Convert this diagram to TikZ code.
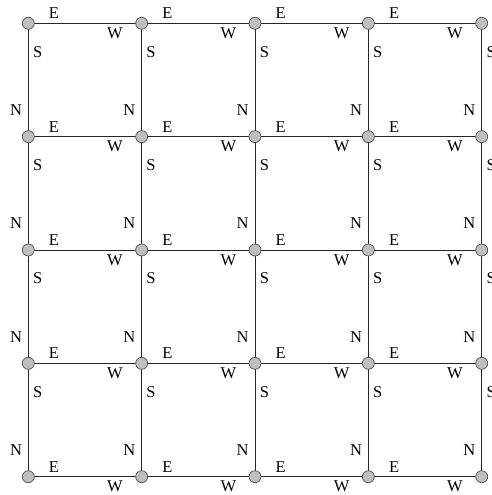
\documentclass[tikz,border=0pt]{standalone}
\usepackage{fontspec}
\setmainfont{Liberation Serif}
\usetikzlibrary{calc}
\begin{document}
\begin{tikzpicture}[x=1pt,y=-1pt,
  vert/.style={circle,draw=black!70,fill=black!25,line width=0.7pt,minimum size=12pt,inner sep=0pt},
  edge/.style={draw=black!85,line width=0.8pt},
  lab/.style={font=\fontsize{16.5}{16.5}\selectfont,inner sep=0pt}]
\useasboundingbox (0,0) rectangle (491,495);
\foreach \i in {0,...,4}{
  \foreach \j in {0,...,4}{
    \coordinate (c-\i-\j) at ({28.3+113.35*\i},{23.3+113.35*\j});
  }
}
\foreach \i in {0,...,3}{
  \foreach \j in {0,...,4}{
    \pgfmathtruncatemacro{\ii}{\i+1}
    \draw[edge] (c-\i-\j) -- (c-\ii-\j);
    \node[lab] (e-\i-\j) at ($(c-\i-\j)+(25.7,-10)$) {E};
    \node[lab] (w-\i-\j) at ($(c-\ii-\j)+(-26.7,10)$) {W};
  }
}
\foreach \i in {0,...,4}{
  \foreach \j in {0,...,3}{
    \pgfmathtruncatemacro{\jj}{\j+1}
    \draw[edge] (c-\i-\j) -- (c-\i-\jj);
    \node[lab] (s-\i-\j) at ($(c-\i-\j)+(9.4,28.4)$) {S};
    \node[lab] (n-\i-\j) at ($(c-\i-\jj)+(-12.3,-26.6)$) {N};
  }
}
\foreach \i in {0,...,4}{
  \foreach \j in {0,...,4}{
    \node[vert] (v-\i-\j) at (c-\i-\j) {};
  }
}
\end{tikzpicture}
\end{document}
